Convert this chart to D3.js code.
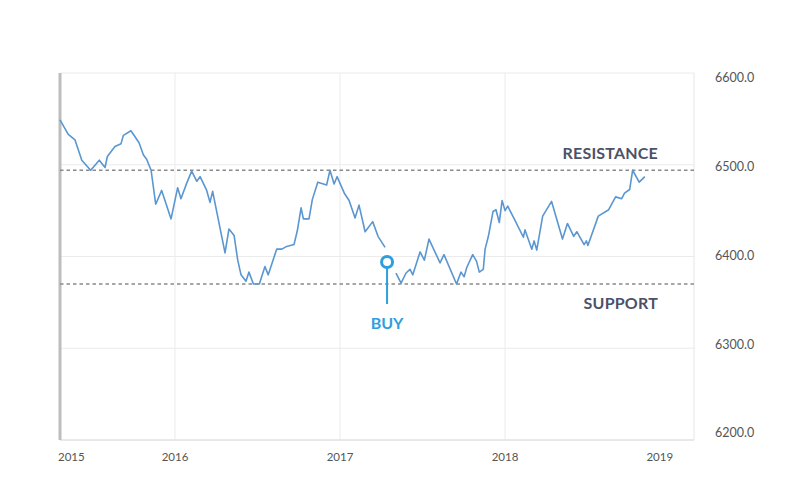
<!DOCTYPE html>
<html lang="en">
<head>
<meta charset="UTF-8">
<script src="https://d3js.org/d3.v7.min.js" charset="utf-8"></script>
<title>Support and resistance</title>
<style>
body { margin: 0; background: #fff; }
text { font-family: Lato, "Open Sans", sans-serif; }
.axis-label { font-size: 12.5px; fill: #555; }
.level-label { font-size: 16px; font-weight: 700; fill: #4b5268; letter-spacing: 0.2px; }
.buy-label { font-size: 16px; font-weight: 700; fill: #2b9fe0; }
</style>
</head>
<body>
<script>

// price series: decimal year / index value (null = gap at the buy marker)
var years = [
  2015.303, 2015.353, 2015.394, 2015.435, 2015.489, 2015.541, 2015.576, 2015.590,
  2015.636, 2015.673, 2015.687, 2015.733, 2015.782, 2015.808, 2015.828, 2015.855,
  2015.883, 2015.919, 2015.976, 2016.016, 2016.036, 2016.071, 2016.101, 2016.132,
  2016.152, 2016.192, 2016.212, 2016.228, 2016.303, 2016.327, 2016.358, 2016.380,
  2016.400, 2016.430, 2016.448, 2016.475, 2016.511, 2016.545, 2016.565, 2016.616,
  2016.647, 2016.677, 2016.721, 2016.741, 2016.764, 2016.778, 2016.812, 2016.832,
  2016.865, 2016.919, 2016.939, 2016.964, 2016.982, 2017.026, 2017.055, 2017.091,
  2017.115, 2017.152, 2017.198, 2017.230, 2017.273, 2017.310, 2017.339, 2017.370,
  2017.400, 2017.424, 2017.441, 2017.485, 2017.511, 2017.539, 2017.606, 2017.630,
  2017.706, 2017.733, 2017.752, 2017.768, 2017.804, 2017.827, 2017.844, 2017.868,
  2017.879, 2017.899, 2017.927, 2017.945, 2017.965, 2017.982, 2018.000, 2018.016,
  2018.061, 2018.111, 2018.121, 2018.162, 2018.176, 2018.192, 2018.228, 2018.282,
  2018.348, 2018.378, 2018.416, 2018.435, 2018.479, 2018.493, 2018.502, 2018.565,
  2018.628, 2018.670, 2018.707, 2018.724, 2018.755, 2018.773, 2018.813, 2018.847
];

var values = [
  6549, 6533, 6527, 6505, 6494, 6505, 6497, 6509,
  6520, 6523, 6532, 6537, 6524, 6511, 6506, 6494,
  6457, 6472, 6441, 6475, 6463, 6480, 6493, 6482,
  6487, 6472, 6459, 6471, 6404, 6430, 6423, 6396,
  6380, 6373, 6383, 6370, 6370, 6389, 6380, 6408,
  6408, 6411, 6413, 6428, 6453, 6441, 6441, 6462,
  6481, 6478, 6494, 6479, 6487, 6469, 6461, 6442,
  6456, 6427, 6438, 6422, 6410, null, 6382, 6371,
  6382, 6386, 6380, 6405, 6396, 6419, 6393, 6402,
  6370, 6383, 6378, 6388, 6402, 6395, 6383, 6386,
  6408, 6422, 6449, 6451, 6437, 6461, 6450, 6455,
  6439, 6421, 6429, 6408, 6417, 6407, 6444, 6460,
  6419, 6436, 6422, 6427, 6413, 6417, 6412, 6444,
  6451, 6465, 6463, 6469, 6473, 6494, 6481, 6487
];

var resistance = 6494;
var support = 6370;
var buyYear = 2017.285;
var buyValue = 6394;

var yTicks = [6200, 6300, 6400, 6500, 6600];
var xTickYears = [2015.303, 2016, 2017, 2018, 2019];
var xTickLabels = ["2015", "2016", "2017", "2018", "2019"];
var xGridYears = [2016, 2017, 2018];

var width = 797,
    height = 490,
    plotLeft = 60, plotRight = 694, plotTop = 73, plotBottom = 440;

var svg = d3.select("body").append("svg")
    .attr("width", width)
    .attr("height", height);

var x = d3.scaleLinear().domain([2015.303, 2019.145]).range([plotLeft, plotRight]);
var y = d3.scaleLinear().domain([6200, 6600]).range([plotBottom, plotTop]);
// right-hand labels sit slightly compressed relative to the grid
var yText = d3.scaleLinear().domain([6200, 6600]).range([433, 78]);

// grid
svg.append("g").selectAll("line")
    .data(yTicks)
  .enter().append("line")
    .attr("x1", plotLeft).attr("x2", plotRight)
    .attr("y1", function(d) { return y(d); })
    .attr("y2", function(d) { return y(d); })
    .attr("stroke", "#ebebeb");

svg.append("g").selectAll("line")
    .data(xGridYears)
  .enter().append("line")
    .attr("x1", function(d) { return x(d); })
    .attr("x2", function(d) { return x(d); })
    .attr("y1", plotTop).attr("y2", plotBottom)
    .attr("stroke", "#ebebeb");

svg.append("line")
    .attr("x1", plotRight).attr("x2", plotRight)
    .attr("y1", plotTop).attr("y2", plotBottom)
    .attr("stroke", "#e6e6e6");

svg.append("line")
    .attr("x1", plotLeft).attr("x2", plotRight)
    .attr("y1", plotBottom).attr("y2", plotBottom)
    .attr("stroke", "#dcdcdc");

svg.append("line")
    .attr("x1", plotLeft).attr("x2", plotLeft)
    .attr("y1", plotTop).attr("y2", plotBottom)
    .attr("stroke", "#bdbdbd")
    .attr("stroke-width", 3);

// axis labels
svg.append("g").selectAll("text")
    .data(yTicks)
  .enter().append("text")
    .attr("class", "axis-label")
    .attr("x", 715)
    .attr("y", function(d) { return yText(d); })
    .attr("dy", "0.35em")
    .text(d3.format(".1f"));

svg.append("g").selectAll("text")
    .data(xTickYears)
  .enter().append("text")
    .attr("class", "axis-label")
    .attr("x", function(d, i) {
      if (i === 0) return x(d) - 2;
      if (i === xTickYears.length - 1) return x(d) + 3;
      return x(d);
    })
    .attr("y", 457)
    .attr("dy", "0.35em")
    .attr("text-anchor", function(d, i) {
      if (i === 0) return "start";
      if (i === xTickYears.length - 1) return "end";
      return "middle";
    })
    .style("font-size", "11.5px")
    .text(function(d, i) { return xTickLabels[i]; });

// support / resistance levels
[resistance, support].forEach(function(v) {
  svg.append("line")
      .attr("x1", plotLeft).attr("x2", plotRight)
      .attr("y1", y(v)).attr("y2", y(v))
      .attr("stroke", "#8a8a8a")
      .attr("stroke-width", 1.5)
      .attr("stroke-dasharray", "3.5,3");
});

svg.append("text")
    .attr("class", "level-label")
    .attr("x", 658)
    .attr("y", y(resistance) - 17)
    .attr("dy", "0.35em")
    .attr("text-anchor", "end")
    .text("RESISTANCE");

svg.append("text")
    .attr("class", "level-label")
    .attr("x", 658)
    .attr("y", y(support) + 19)
    .attr("dy", "0.35em")
    .attr("text-anchor", "end")
    .text("SUPPORT");

// price line
var series = years.map(function(t, i) { return { t: t, v: values[i] }; });

var line = d3.line()
    .defined(function(d) { return d.v !== null; })
    .x(function(d) { return x(d.t); })
    .y(function(d) { return y(d.v); });

svg.append("path")
    .datum(series)
    .attr("fill", "none")
    .attr("stroke", "#5a96d0")
    .attr("stroke-width", 1.6)
    .attr("stroke-linejoin", "round")
    .attr("d", line);

// buy marker
var bx = x(buyYear), by = y(buyValue);

svg.append("line")
    .attr("x1", bx).attr("x2", bx)
    .attr("y1", by + 5).attr("y2", by + 42)
    .attr("stroke", "#2b9fe0")
    .attr("stroke-width", 2);

svg.append("circle")
    .attr("cx", bx).attr("cy", by)
    .attr("r", 5.5)
    .attr("fill", "#fff")
    .attr("stroke", "#2b9fe0")
    .attr("stroke-width", 3);

svg.append("text")
    .attr("class", "buy-label")
    .attr("x", bx)
    .attr("y", by + 61)
    .attr("dy", "0.35em")
    .attr("text-anchor", "middle")
    .text("BUY");

</script>
</body>
</html>
